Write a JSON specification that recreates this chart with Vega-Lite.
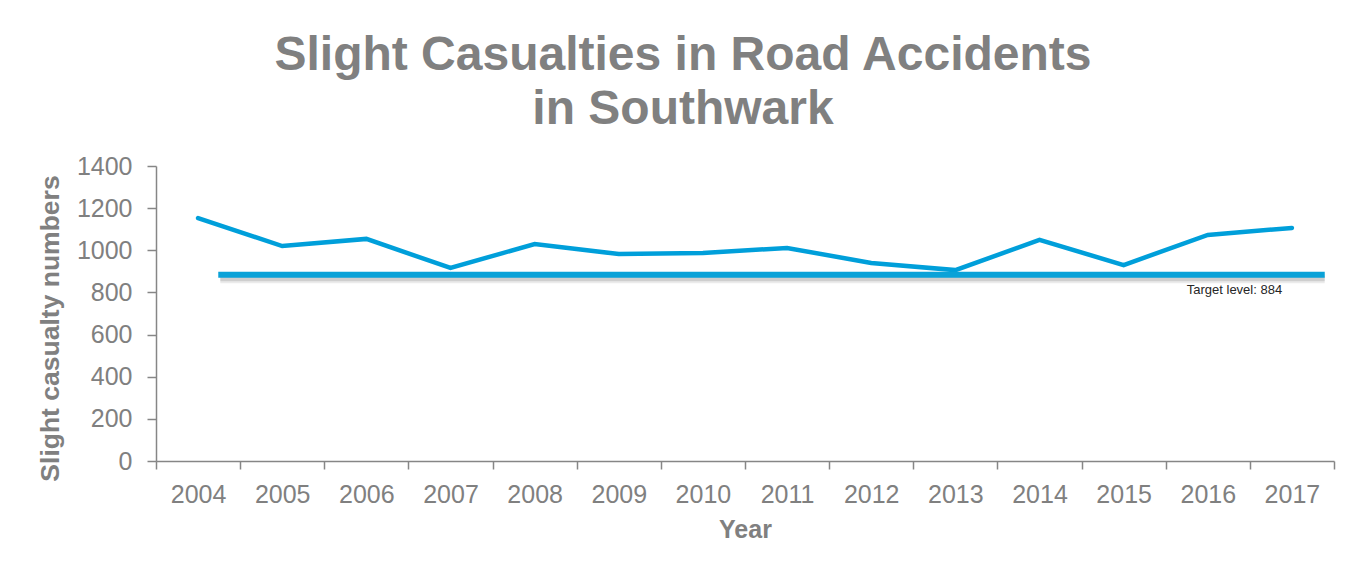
{
  "$schema": "https://vega.github.io/schema/vega-lite/v6.json",
  "autosize": "none",
  "width": 1178,
  "height": 295,
  "padding": {"left": 156, "top": 166, "right": 29, "bottom": 117},
  "background": "white",
  "title": {
    "text": ["Slight Casualties in Road Accidents", "in Southwark"],
    "font": "Liberation Sans",
    "fontSize": 48,
    "fontWeight": "bold",
    "color": "#808080",
    "anchor": "middle",
    "frame": "group",
    "dx": -62,
    "lineHeight": 54,
    "offset": 20
  },
  "datasets": {
    "casualties": [
      {"year": "2004", "casualties": 1153},
      {"year": "2005", "casualties": 1020},
      {"year": "2006", "casualties": 1054},
      {"year": "2007", "casualties": 916},
      {"year": "2008", "casualties": 1030},
      {"year": "2009", "casualties": 982},
      {"year": "2010", "casualties": 987},
      {"year": "2011", "casualties": 1011},
      {"year": "2012", "casualties": 940},
      {"year": "2013", "casualties": 906},
      {"year": "2014", "casualties": 1049},
      {"year": "2015", "casualties": 930},
      {"year": "2016", "casualties": 1073},
      {"year": "2017", "casualties": 1106}
    ],
    "target": [
      {"from": "2004", "to": "2017", "labelAt": "2016", "target": 884, "label": "Target level: 884"}
    ]
  },
  "layer": [
    {
      "data": {"name": "casualties"},
      "mark": {"type": "line", "color": "#009FDA", "strokeWidth": 4.5, "strokeCap": "round", "strokeJoin": "miter"},
      "encoding": {
        "x": {
          "field": "year",
          "type": "ordinal",
          "scale": {"type": "band", "paddingInner": 0, "paddingOuter": 0, "domain": ["2004","2005","2006","2007","2008","2009","2010","2011","2012","2013","2014","2015","2016","2017"]},
          "axis": {
            "title": "Year",
            "labelAngle": 0,
            "tickBand": "extent",
            "labelFont": "Liberation Sans",
            "labelFontSize": 25,
            "labelColor": "#808080",
            "labelPadding": 13,
            "tickSize": 8,
            "tickColor": "#868686",
            "tickWidth": 1.5,
            "domainColor": "#868686",
            "domainWidth": 1.5,
            "titleFont": "Liberation Sans",
            "titleFontSize": 25,
            "titleFontWeight": "bold",
            "titleColor": "#808080",
            "titlePadding": 10,
            "grid": false
          }
        },
        "y": {
          "field": "casualties",
          "type": "quantitative",
          "scale": {"domain": [0, 1400], "nice": false},
          "axis": {
            "title": "Slight casualty numbers",
            "values": [0, 200, 400, 600, 800, 1000, 1200, 1400],
            "format": "d",
            "labelFont": "Liberation Sans",
            "labelFontSize": 25,
            "labelColor": "#808080",
            "labelPadding": 15,
            "tickSize": 9,
            "tickColor": "#868686",
            "tickWidth": 1.5,
            "domainColor": "#868686",
            "domainWidth": 1.5,
            "titleFont": "Liberation Sans",
            "titleFontSize": 26.5,
            "titleFontWeight": "bold",
            "titleColor": "#808080",
            "titlePadding": 12,
            "titleY": 162,
            "grid": false
          }
        }
      }
    },
    {
      "data": {"name": "target"},
      "mark": {"type": "rule", "color": "#000000", "opacity": 0.08, "strokeWidth": 9, "yOffset": 4, "xOffset": 2},
      "encoding": {
        "x": {"field": "from", "type": "ordinal", "bandPosition": 0.74},
        "x2": {"field": "to", "bandPosition": 0.89},
        "y": {"field": "target", "type": "quantitative"}
      }
    },
    {
      "data": {"name": "target"},
      "mark": {"type": "rule", "color": "#000000", "opacity": 0.12, "strokeWidth": 5, "yOffset": 4, "xOffset": 2},
      "encoding": {
        "x": {"field": "from", "type": "ordinal", "bandPosition": 0.74},
        "x2": {"field": "to", "bandPosition": 0.89},
        "y": {"field": "target", "type": "quantitative"}
      }
    },
    {
      "data": {"name": "target"},
      "mark": {"type": "rule", "color": "#0AA2D8", "strokeWidth": 6},
      "encoding": {
        "x": {"field": "from", "type": "ordinal", "bandPosition": 0.74},
        "x2": {"field": "to", "bandPosition": 0.89},
        "y": {"field": "target", "type": "quantitative"}
      }
    },
    {
      "data": {"name": "target"},
      "mark": {"type": "text", "align": "left", "baseline": "top", "dy": 9, "font": "Liberation Sans", "fontSize": 13, "color": "#262626"},
      "encoding": {
        "x": {"field": "labelAt", "type": "ordinal", "bandPosition": 0.25},
        "y": {"field": "target", "type": "quantitative"},
        "text": {"field": "label"}
      }
    }
  ],
  "config": {"view": {"stroke": null}}
}
